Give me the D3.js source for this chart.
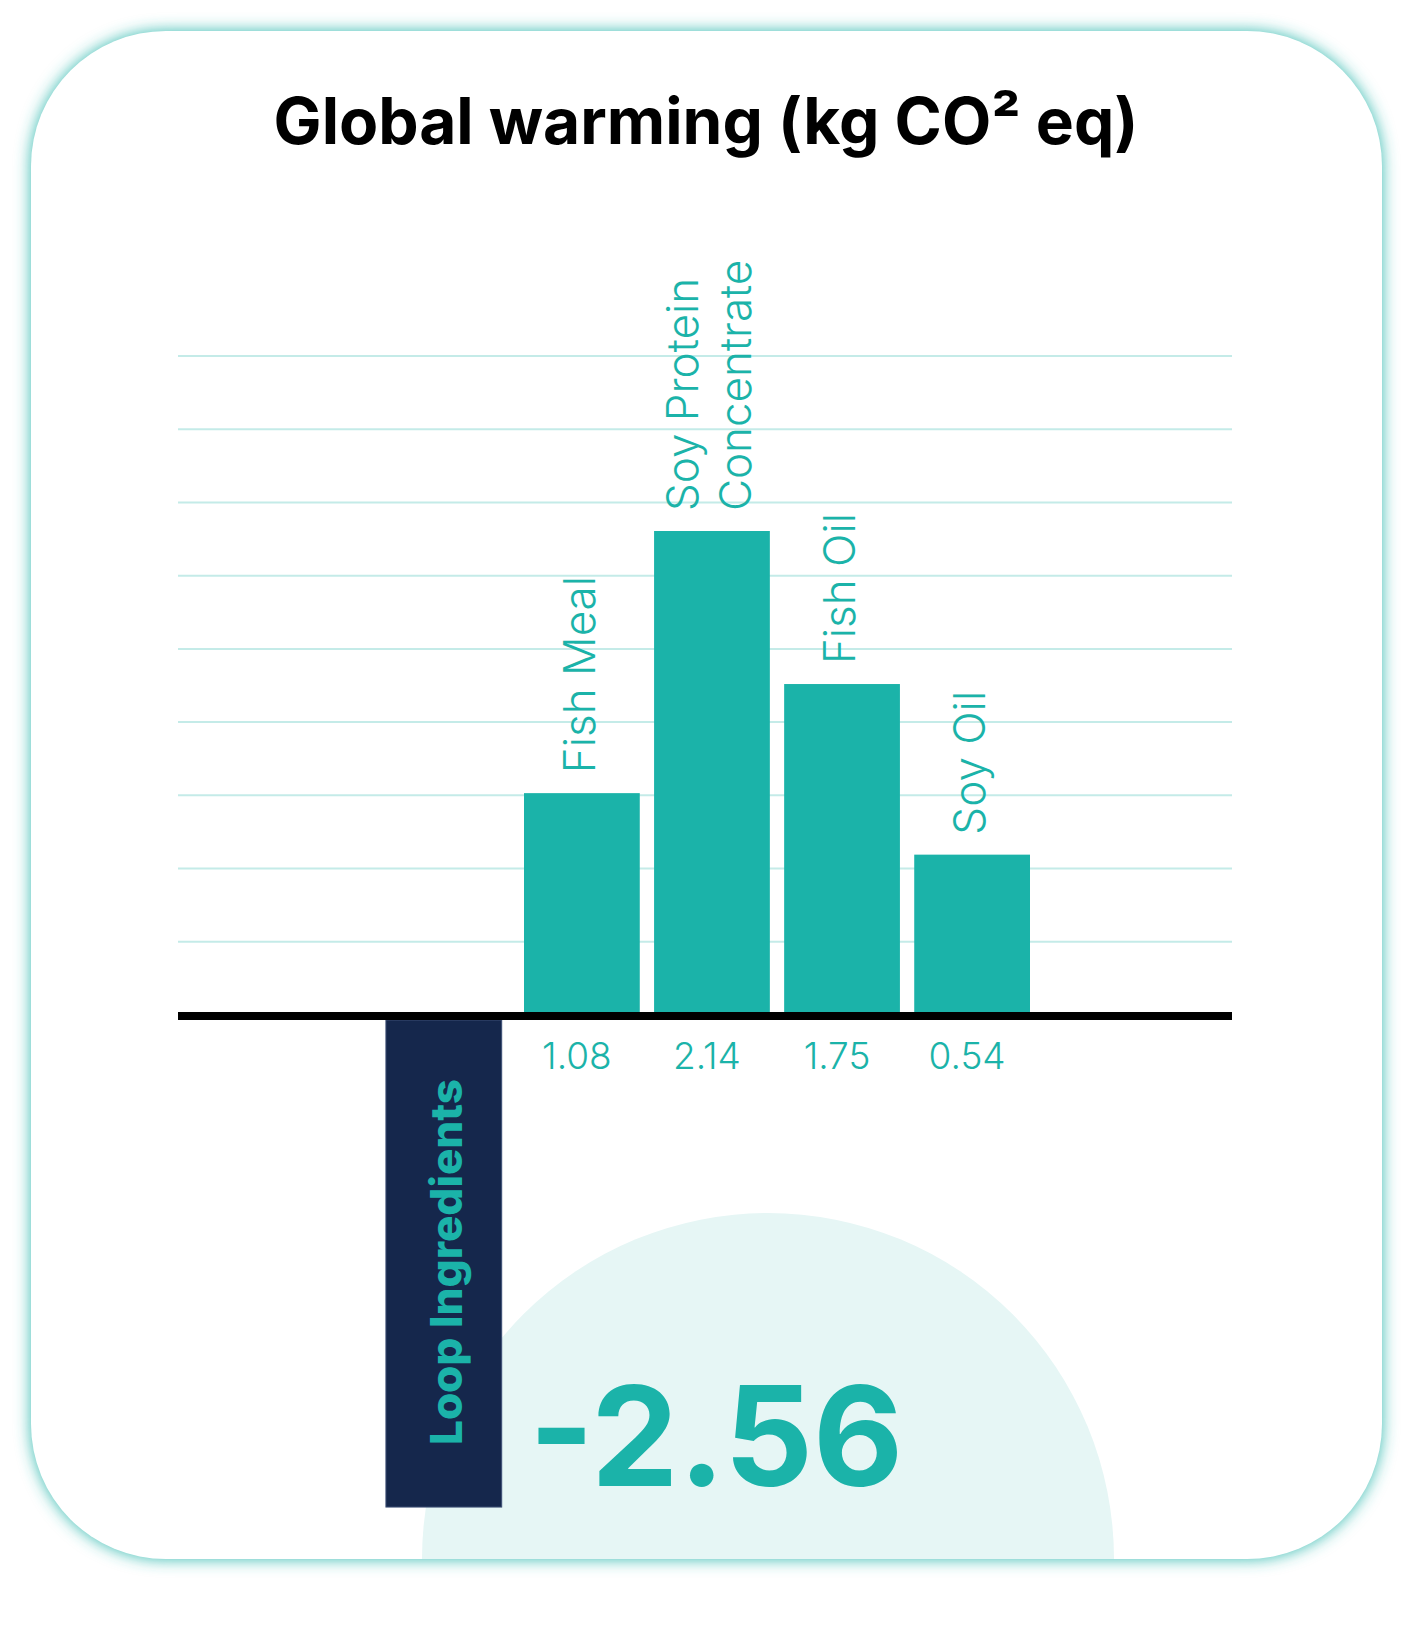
<!DOCTYPE html>
<html lang="en">
<head>
	<meta charset="UTF-8">
	<title>Global warming</title>
	<script src="https://cdn.jsdelivr.net/npm/d3@7"></script>
	<style>
		html,body{
			margin:0;
			padding:0;
			background:#fff;
		}
		svg{
			display:block;
		}
		text{
			font-family:Inter, "Noto Sans", sans-serif;
		}
	</style>
</head>
<body>
	<svg id="svg" width="1414" height="1633"></svg>
	<script>
		// values printed under the bars
		var categories = ["Fish Meal", "Soy Protein Concentrate", "Fish Oil", "Soy Oil"];
		var values = [1.08, 2.14, 1.75, 0.54];
		// bar heights as drawn, in gridline units (the picture is not to scale)
		var barHeights = [3.03, 6.61, 4.52, 2.19];
		var loopName = "Loop Ingredients";
		var loopValue = -2.56;
		var loopHeight = -6.72;
		var gridTicks = [1, 2, 3, 4, 5, 6, 7, 8, 9];

		window.onload = ()=>{
			var svg = d3.select("svg"),
				teal = "#1bb3a9",
				navy = "#15274c";

			var defs = svg.append("defs");
			defs.append("filter")
				.attr("id", "glow")
				.attr("x", "-10%").attr("y", "-10%")
				.attr("width", "120%").attr("height", "120%")
				.append("feGaussianBlur")
				.attr("stdDeviation", 8);

			// card + teal glow
			svg.append("rect")
				.attr("x", 31).attr("y", 31)
				.attr("width", 1351).attr("height", 1528)
				.attr("rx", 135)
				.attr("fill", "#34bab0")
				.attr("filter", "url(#glow)");
			svg.append("rect")
				.attr("x", 31).attr("y", 31)
				.attr("width", 1351).attr("height", 1528)
				.attr("rx", 135)
				.attr("fill", "#fff");

			// pale half disc behind the big number
			var cx = 768, cy = 1559, r = 346;
			svg.append("path")
				.attr("d", "M" + (cx - r) + "," + cy + " A" + r + "," + r + " 0 0 1 " + (cx + r) + "," + cy + " Z")
				.attr("fill", "#e6f6f5");

			svg.append("text")
				.attr("x", 706).attr("y", 144)
				.attr("text-anchor", "middle")
				.attr("font-size", 64)
				.attr("font-weight", 700)
				.attr("fill", "#000")
				.text("Global warming (kg CO² eq)");

			var y = d3.scaleLinear()
				.domain([0, 9])
				.range([1015, 356]);

			var x = d3.scaleBand()
				.domain(categories)
				.range([524, 1030])
				.paddingInner(0.11)
				.paddingOuter(0);

			// gridlines
			svg.append("g")
				.selectAll("line")
				.data(gridTicks)
				.enter().append("line")
				.attr("x1", 178).attr("x2", 1232)
				.attr("y1", (d)=>y(d)).attr("y2", (d)=>y(d))
				.attr("stroke", "#c4ebe8")
				.attr("stroke-width", 2);

			var data = categories.map((c,i)=>{
				return {name:c, value:values[i], h:barHeights[i]};
			});

			svg.append("g")
				.selectAll("rect")
				.data(data)
				.enter().append("rect")
				.attr("x", (d)=>x(d.name))
				.attr("y", (d)=>y(d.h))
				.attr("width", x.bandwidth())
				.attr("height", (d)=>y(0) - y(d.h))
				.attr("fill", teal);

			// value labels under the axis
			svg.append("g")
				.selectAll("text")
				.data(data)
				.enter().append("text")
				.attr("x", (d)=>x(d.name) + x.bandwidth()/2 - 5)
				.attr("y", 1069)
				.attr("text-anchor", "middle")
				.attr("font-size", 37)
				.attr("font-weight", 350)
				.attr("fill", teal)
				.text((d)=>d3.format(".2f")(d.value));

			// rotated category names
			function wrap(s){
				var words = s.split(" "), lines = [], cur = "";
				words.forEach((w)=>{
					if(cur && (cur + " " + w).length > 12){
						lines.push(cur);
						cur = w;
					}else{
						cur = cur ? cur + " " + w : w;
					}
				});
				lines.push(cur);
				return lines;
			}
			var lh = 53;
			var lab = svg.append("g")
				.selectAll("text")
				.data(data)
				.enter().append("text")
				.attr("transform", (d)=>{
					var n = wrap(d.name).length;
					var bx = x(d.name) + x.bandwidth()/2 + 13 - (n - 1)*lh/2;
					return "translate(" + bx + "," + (y(d.h) - 20) + ") rotate(-90)";
				})
				.attr("font-size", 44)
				.attr("font-weight", 350)
				.attr("fill", teal);
			lab.selectAll("tspan")
				.data((d)=>wrap(d.name))
				.enter().append("tspan")
				.attr("x", 0)
				.attr("dy", (d,i)=>i ? lh : 0)
				.text((d)=>d);

			// negative loop bar
			var lx = x(categories[0]) - x.step() - 8;
			svg.append("rect")
				.attr("x", lx)
				.attr("y", 1020)
				.attr("width", x.bandwidth())
				.attr("height", y(loopHeight) - 1020)
				.attr("fill", navy)
				.attr("stroke", "#3d4f75")
				.attr("stroke-width", 1);

			svg.append("text")
				.attr("transform", "translate(" + (lx + x.bandwidth()/2 + 18) + ",1445) rotate(-90)")
				.attr("font-size", 44)
				.attr("font-weight", 800)
				.attr("fill", teal)
				.text(loopName);

			svg.append("text")
				.attr("x", 529).attr("y", 1486)
				.attr("font-size", 139)
				.attr("font-weight", 700)
				.attr("fill", teal)
				.text(d3.format(".2f")(loopValue).replace("−", "-"));

			// zero line
			svg.append("line")
				.attr("x1", 178).attr("x2", 1232)
				.attr("y1", y(0) + 1).attr("y2", y(0) + 1)
				.attr("stroke", "#000")
				.attr("stroke-width", 8);
		}
	</script>
</body>
</html>
